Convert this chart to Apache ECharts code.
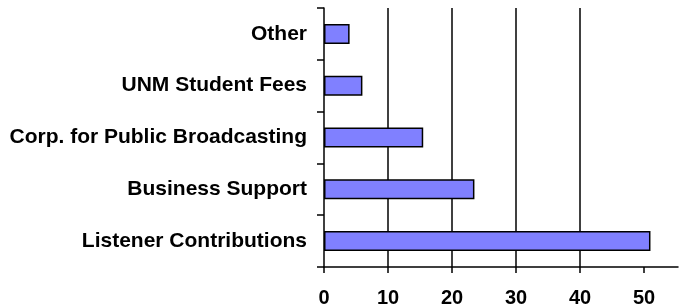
<!DOCTYPE html>
<html>
<head>
<meta charset="utf-8">
<script src="https://cdn.jsdelivr.net/npm/echarts@6/dist/echarts.min.js"></script>
<style>
  html, body { margin: 0; padding: 0; background: #fff; }
  #chart { width: 683px; height: 308px; }
</style>
</head>
<body>
<div id="chart"></div>
<script>
// funding sources, listed top to bottom
const categories = ['Other', 'UNM Student Fees', 'Corp. for Public Broadcasting', 'Business Support', 'Listener Contributions'];
const values = [4, 6, 15.5, 23.5, 51];
const xTicks = [0, 10, 20, 30, 40, 50];

const chart = echarts.init(document.getElementById('chart'));
chart.setOption({
  animation: false,
  textStyle: { fontFamily: 'Liberation Sans, Arial, sans-serif' },
  grid: { left: 324, right: 5, top: 8, bottom: 41, containLabel: false },
  xAxis: {
    type: 'value',
    min: 0,
    max: 55.3,
    interval: 10,
    axisLine: { show: true, lineStyle: { color: '#000', width: 1.5 } },
    axisTick: { show: true, length: 6, customValues: xTicks, lineStyle: { color: '#000', width: 1.5 } },
    axisLabel: {
      customValues: xTicks,
      margin: 21,
      color: '#000',
      fontSize: 20,
      fontWeight: 'bold'
    },
    splitLine: { show: true, showMinLine: false, showMaxLine: false, lineStyle: { color: '#000', width: 1.5 } }
  },
  yAxis: {
    type: 'category',
    inverse: true,
    data: categories,
    axisLine: { show: true, lineStyle: { color: '#000', width: 1.5 } },
    axisTick: { show: true, length: 7, lineStyle: { color: '#000', width: 1.5 } },
    axisLabel: { margin: 17, color: '#000', fontSize: 21, fontWeight: 'bold' }
  },
  series: [{
    type: 'bar',
    data: values,
    barWidth: 20,
    itemStyle: { color: '#8080FF', borderColor: '#000', borderWidth: 1.5 }
  }]
});
</script>
</body>
</html>
